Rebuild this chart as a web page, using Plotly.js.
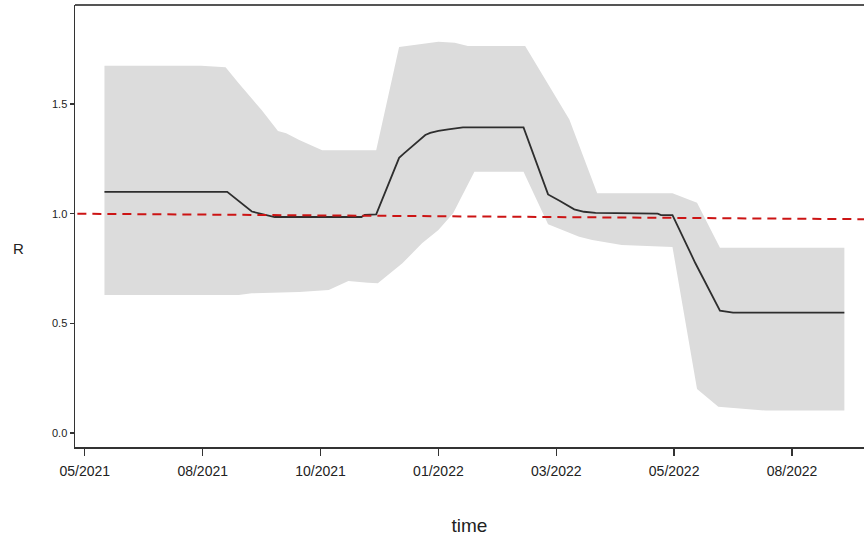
<!DOCTYPE html>
<html>
<head>
<meta charset="utf-8">
<script src="https://cdn.plot.ly/plotly-3.0.1.min.js"></script>
<style>html,body{margin:0;padding:0;background:#fff;}#chart{width:864px;height:542px;}</style>
</head>
<body>
<div id="chart"></div>
<script>
// Mean R estimate (vertices)
const meanDates = ["2021-06-11","2021-08-25","2021-09-09","2021-09-15","2021-09-23","2021-11-15","2021-11-17","2021-11-24",
  "2021-12-08","2021-12-11","2021-12-17","2021-12-24","2021-12-27","2022-01-01","2022-01-07","2022-01-16","2022-02-22",
  "2022-03-09","2022-03-16","2022-03-25","2022-03-31","2022-04-07","2022-05-15","2022-05-17","2022-05-24","2022-06-07",
  "2022-06-22","2022-06-30","2022-09-06"];
const meanR = [1.10,1.10,1.01,1.00,0.985,0.985,0.995,0.997,
  1.255,1.275,1.313,1.359,1.369,1.378,1.385,1.394,1.394,
  1.088,1.059,1.020,1.009,1.004,1.000,0.994,0.994,0.774,
  0.558,0.549,0.549];

// Upper bound of the uncertainty band
const upperDates = ["2021-06-11","2021-08-09","2021-08-24","2021-09-01","2021-09-15","2021-09-25","2021-09-30","2021-10-08",
  "2021-10-22","2021-11-24","2021-12-08","2021-12-23","2022-01-01","2022-01-11","2022-01-19","2022-02-23","2022-03-22",
  "2022-04-08","2022-05-24","2022-06-08","2022-06-22","2022-09-06"];
const upperR = [1.675,1.675,1.668,1.595,1.473,1.377,1.367,1.336,
  1.29,1.29,1.761,1.777,1.784,1.780,1.765,1.765,1.43,
  1.093,1.093,1.05,0.845,0.845];

// Lower bound of the uncertainty band
const lowerDates = ["2021-06-11","2021-09-01","2021-09-09","2021-10-08","2021-10-26","2021-11-07","2021-11-19","2021-11-25",
  "2021-12-10","2021-12-22","2022-01-01","2022-01-10","2022-01-23","2022-02-22","2022-03-09","2022-03-28","2022-04-05",
  "2022-04-23","2022-05-24","2022-06-08","2022-06-21","2022-07-10","2022-07-20","2022-09-06"];
const lowerR = [0.629,0.629,0.637,0.643,0.652,0.693,0.685,0.683,
  0.774,0.865,0.926,1.002,1.192,1.192,0.952,0.895,0.880,
  0.857,0.848,0.20,0.12,0.108,0.102,0.102];

// Reference line (start / end values)
const refR = [1.0, 0.975];

// Tick positions and labels
const tickDates = ["2021-05-30","2021-08-10","2021-10-21","2022-01-01","2022-03-14","2022-05-25","2022-08-05"];
const tickLabels = ["05/2021","08/2021","10/2021","01/2022","03/2022","05/2022","08/2022"];
const yTicks = [0, 0.5, 1.0, 1.5];

const bandX = upperDates.concat(lowerDates.slice().reverse());
const bandY = upperR.concat(lowerR.slice().reverse());

const traces = [
  {x: bandX, y: bandY, type: 'scatter', mode: 'lines', fill: 'toself',
   fillcolor: 'rgb(220,220,220)', line: {width: 0, color: 'rgba(0,0,0,0)'}, hoverinfo: 'skip', showlegend: false},
  {x: meanDates, y: meanR, type: 'scatter', mode: 'lines',
   line: {color: '#2e2e2e', width: 1.8}, showlegend: false}
];

const axisFont = {family: 'Liberation Sans, Arial, sans-serif', color: '#222'};

const layout = {
  width: 864, height: 542,
  margin: {l: 75, r: 0, t: 5, b: 95, pad: 0},
  paper_bgcolor: '#fff', plot_bgcolor: '#fff',
  showlegend: false,
  xaxis: {
    type: 'date', range: ['2021-05-24', '2022-09-18'],
    tickvals: tickDates, ticktext: tickLabels,
    ticks: 'outside', ticklen: 7, tickwidth: 1.3, tickcolor: '#333',
    ticklabelstandoff: 4,
    showline: true, linecolor: '#333', linewidth: 1.5,
    showgrid: false, zeroline: false,
    tickfont: Object.assign({size: 14}, axisFont),
    title: {text: 'time', font: {family: 'Liberation Sans, Arial, sans-serif', size: 19, color: '#222'}, standoff: 40}
  },
  yaxis: {
    range: [-0.064, 1.952],
    tickvals: yTicks, tickformat: '.1f',
    ticks: 'outside', ticklen: 4, tickwidth: 1.3, tickcolor: '#333',
    showline: true, linecolor: '#333', linewidth: 1.5,
    showgrid: false, zeroline: false,
    tickfont: Object.assign({size: 11}, axisFont)
  },
  shapes: [
    {type: 'line', xref: 'paper', yref: 'y', x0: 0.003, x1: 1, y0: refR[0], y1: refR[1],
     line: {color: '#cc1414', width: 2, dash: '9px,6px'}},
    {type: 'line', xref: 'paper', yref: 'paper', x0: 0, x1: 1, y0: 1, y1: 1,
     line: {color: '#555', width: 2}}
  ],
  annotations: [
    {text: 'R', xref: 'paper', yref: 'paper', x: -0.072, y: 0.45, xanchor: 'center', yanchor: 'middle',
     showarrow: false, font: {family: 'Liberation Sans, Arial, sans-serif', size: 15, color: '#222'}}
  ]
};

Plotly.newPlot('chart', traces, layout, {displayModeBar: false, staticPlot: true});
</script>
</body>
</html>
